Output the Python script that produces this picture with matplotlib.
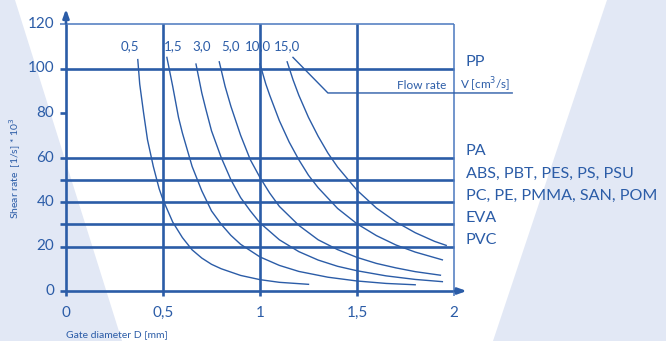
import matplotlib
matplotlib.use("Agg")
import matplotlib.pyplot as plt
from matplotlib.patches import Polygon

plt.rcParams['font.family'] = ['Lato', 'DejaVu Sans']

# ---- data ----
flow_labels = ["0,5", "1,5", "3,0", "5,0", "10,0", "15,0"]
label_x = [0.33, 0.55, 0.70, 0.85, 0.99, 1.14]

d_05 = [0.37, 0.38, 0.40, 0.42, 0.45, 0.48, 0.50, 0.55, 0.60, 0.65, 0.70, 0.75, 0.80, 0.90, 1.00, 1.10, 1.25]
r_05 = [104, 93, 80, 68, 56, 46, 41, 31, 24, 18.5, 14.8, 12, 10, 7, 5.1, 3.9, 3.0]

d_15 = [0.52, 0.55, 0.58, 0.60, 0.65, 0.70, 0.75, 0.80, 0.85, 0.90, 1.00, 1.10, 1.20, 1.35, 1.50, 1.65, 1.80]
r_15 = [105, 92, 78, 71, 56, 45, 36, 30, 25, 21, 15.3, 11.5, 8.8, 6.2, 4.5, 3.4, 2.8]

d_30 = [0.67, 0.70, 0.72, 0.75, 0.80, 0.85, 0.90, 0.95, 1.00, 1.10, 1.20, 1.30, 1.40, 1.50, 1.65, 1.80, 1.94]
r_30 = [102, 89, 82, 72, 60, 50, 42, 36, 30.6, 23, 17.7, 13.9, 11.1, 9.1, 6.8, 5.2, 4.2]

d_50 = [0.79, 0.82, 0.85, 0.90, 0.95, 1.00, 1.05, 1.10, 1.20, 1.30, 1.40, 1.50, 1.60, 1.70, 1.80, 1.93]
r_50 = [103, 92, 83, 70, 59, 51, 44, 38, 29.5, 23, 18.6, 15.1, 12.4, 10.4, 8.7, 7.1]

d_100 = [1.00, 1.03, 1.05, 1.10, 1.15, 1.20, 1.25, 1.30, 1.40, 1.50, 1.60, 1.70, 1.80, 1.94]
r_100 = [102, 93, 88, 76.5, 67, 59, 52, 46.4, 37.1, 30.2, 24.9, 20.7, 17.5, 14]

d_150 = [1.14, 1.17, 1.20, 1.25, 1.30, 1.35, 1.40, 1.50, 1.60, 1.70, 1.80, 1.90, 1.96]
r_150 = [103, 95, 88, 78, 69.5, 62, 55.7, 45.3, 37.3, 31.1, 26.2, 22.3, 20.5]

curves = [(d_05, r_05), (d_15, r_15), (d_30, r_30), (d_50, r_50), (d_100, r_100), (d_150, r_150)]

material_levels = [100, 60, 50, 40, 30, 20]
material_labels = ["PP", "PA", "ABS, PBT, PES, PS, PSU", "PC, PE, PMMA, SAN, POM", "EVA", "PVC"]

x_ticks = [0, 0.5, 1, 1.5, 2]
x_tick_labels = ["0", "0,5", "1", "1,5", "2"]
y_ticks = [0, 20, 40, 60, 80, 100, 120]

# ---- styling ----
BLUE = "#2b5ca7"
LIGHT = "#4a78bf"
SHADE = "#e2e8f5"
W, H = 666, 341

fig = plt.figure(figsize=(W / 100, H / 100), dpi=100)
fig.patch.set_facecolor("white")

bg = fig.add_axes([0, 0, 1, 1], zorder=0)
bg.set_xlim(0, W)
bg.set_ylim(H, 0)
bg.axis("off")
bg.add_patch(Polygon([(0, 0), (15, 0), (122, H), (0, H)], closed=True,
                     facecolor=SHADE, edgecolor="none"))
bg.add_patch(Polygon([(607, 0), (W, 0), (W, H), (493, H)], closed=True,
                     facecolor=SHADE, edgecolor="none"))

ax = fig.add_axes([66 / W, (H - 291) / H, 388 / W, 267 / H], zorder=1)
ax.set_xlim(0, 2)
ax.set_ylim(0, 120)
ax.axis("off")
ax.patch.set_alpha(0)

tick_x = -0.03
tick_y = -2.2

# horizontal grid lines (material levels and 0)
for lv in [0] + material_levels:
    ax.plot([tick_x, 2], [lv, lv], color=BLUE, lw=1.9, solid_capstyle="butt", clip_on=False, zorder=3)
# top line
ax.plot([tick_x, 2], [120, 120], color=LIGHT, lw=1.1, solid_capstyle="butt", clip_on=False, zorder=3)
ax.plot([tick_x, 0], [80, 80], color=BLUE, lw=1.9, solid_capstyle="butt", clip_on=False, zorder=3)

# vertical lines
for xv in [0.5, 1, 1.5]:
    ax.plot([xv, xv], [tick_y, 120], color=BLUE, lw=1.9, solid_capstyle="butt", clip_on=False, zorder=3)
ax.plot([2, 2], [tick_y, 120], color=LIGHT, lw=1.1, solid_capstyle="butt", clip_on=False, zorder=3)
ax.plot([0, 0], [tick_y, 120], color=BLUE, lw=1.9, solid_capstyle="butt", clip_on=False, zorder=3)

# axis arrows
ax.annotate("", xy=(0, 128), xytext=(0, 119), annotation_clip=False,
            arrowprops=dict(arrowstyle="-|>,head_length=0.5,head_width=0.18", color=BLUE, lw=1.9))
ax.annotate("", xy=(2.08, 0), xytext=(1.99, 0), annotation_clip=False,
            arrowprops=dict(arrowstyle="-|>,head_length=0.5,head_width=0.18", color=BLUE, lw=1.9))

# curves
for d, r in curves:
    ax.plot(d, r, color=BLUE, lw=1.0, clip_on=False, zorder=4, solid_joinstyle="round")

for lab, lx in zip(flow_labels, label_x):
    ax.text(lx, 110, lab, color=BLUE, fontsize=9.5, ha="center", va="center")

# flow rate pointer
ax.plot([1.17, 1.35, 2.30], [105, 89, 89], color=BLUE, lw=1.0, clip_on=False, zorder=4)
ax.text(1.96, 92.5, "Flow rate", color=BLUE, fontsize=8.5, ha="right", va="center")
ax.text(2.03, 92.5, "V [cm$^{3}$/s]", color=BLUE, fontsize=8.5, ha="left", va="center")

# material labels
for lv, lab in zip(material_levels, material_labels):
    ax.text(2.06, lv + 2.8, lab, color=BLUE, fontsize=11.6, ha="left", va="center")

# tick labels
for yt in y_ticks:
    ax.text(-0.06, yt, str(yt), color=BLUE, fontsize=11, ha="right", va="center")
for xt, xl in zip(x_ticks, x_tick_labels):
    ax.text(xt, -9.8, xl, color=BLUE, fontsize=11, ha="center", va="center")

# axis titles
fig.text(15 / W, 1 - 168 / H, "Shear rate  [1/s] * 10$^{3}$", color=BLUE, fontsize=7.5,
         rotation=90, ha="center", va="center")
fig.text(66 / W, 1 - 335 / H, "Gate diameter D [mm]", color=BLUE, fontsize=7.5,
         ha="left", va="center")

fig.savefig("out.png", dpi=100, facecolor=fig.get_facecolor())
